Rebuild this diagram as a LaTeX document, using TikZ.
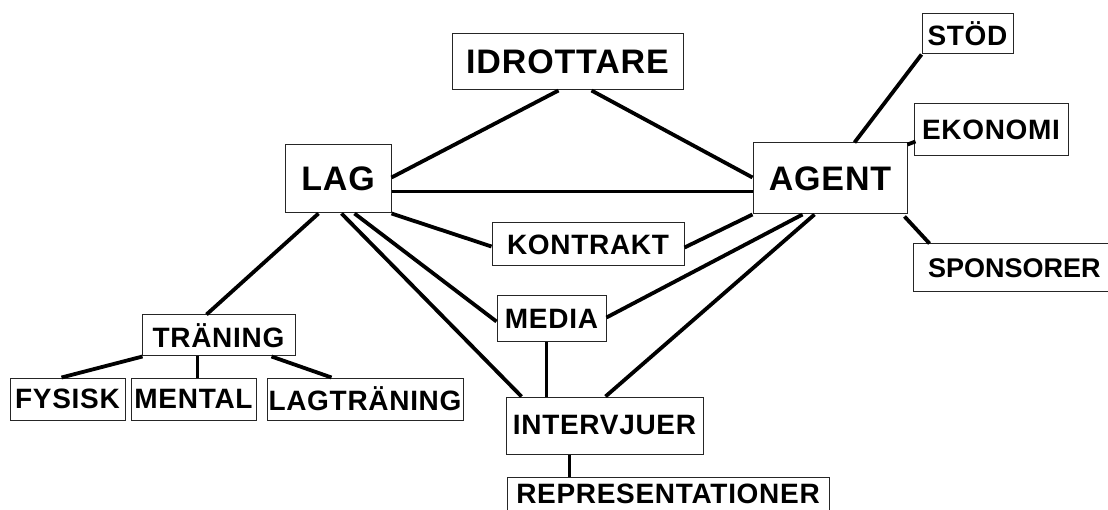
\documentclass[tikz,border=0pt]{standalone}
\usepackage{fontspec}
\setmainfont{Liberation Sans}[LetterSpace=2.5]
\newfontfamily\tightfont{Liberation Sans}
\usetikzlibrary{calc}
\begin{document}
\begin{tikzpicture}[x=1pt,y=-1pt,
  box/.style={draw=black!85,line width=1pt,fill=white,inner sep=0pt,anchor=center},
  big/.style={box,font=\fontsize{34}{36}\selectfont\bfseries},
  small/.style={box,font=\fontsize{28}{30}\selectfont\bfseries},
  conn/.style={line width=3.8pt,black}]
\useasboundingbox (0,0) rectangle (1108,510);
\fill[white] (0,0) rectangle (1108,510);
% boxes
\node[big,minimum width=231pt,minimum height=56pt] (idr) at (567.5,62) {IDROTTARE};
\node[big,minimum width=106pt,minimum height=68pt] (lag) at (338,179) {LAG};
\node[big,minimum width=154pt,minimum height=71pt] (agent) at (830,178.5) {AGENT};
\node[small,minimum width=91pt,minimum height=40pt] (stod) at (967.5,34) {STÖD};
\node[small,minimum width=154pt,minimum height=52pt] (eko) at (991,130) {EKONOMI};
\node[small,font=\fontsize{27}{29}\tightfont\bfseries,minimum width=202pt,minimum height=48pt,text width=172pt,align=left] (spo) at (1014,268) {SPONSORER};
\node[small,minimum width=192pt,minimum height=43pt] (kon) at (588,244.5) {KONTRAKT};
\node[small,minimum width=109pt,minimum height=46pt] (media) at (551.5,319) {MEDIA};
\node[small,minimum width=153pt,minimum height=41pt] (tr) at (218.5,335.5) {TRÄNING};
\node[small,minimum width=115pt,minimum height=42pt] (fys) at (67.5,399) {FYSISK};
\node[small,minimum width=125pt,minimum height=42pt] (men) at (193.5,399) {MENTAL};
\node[small,minimum width=196pt,minimum height=42pt] (lagt) at (365,399) {LAGTRÄNING};
\node[small,minimum width=197pt,minimum height=57pt] (int) at (604.5,425.5) {INTERVJUER};
\node[small,minimum width=322pt,minimum height=33pt] (rep) at (668,493.5) {REPRESENTATIONER};
% connectors
\draw[conn] ($(idr.south west)+(107,0)$) -- ($(lag.north east)+(0,33)$);
\draw[conn] ($(idr.south west)+(140,0)$) -- ($(agent.north west)+(0,35)$);
\draw[conn] ($(lag.north east)+(0,47)$) -- ($(agent.north west)+(0,49)$);
\draw[conn] (lag.south east) -- ($(kon.north west)+(0,24)$);
\draw[conn] ($(kon.north east)+(0,25)$) -- (agent.south west);
\draw[conn] ($(lag.south west)+(70,0)$) -- ($(media.north west)+(0,26)$);
\draw[conn] ($(lag.south west)+(57,0)$) -- ($(int.north west)+(16,0)$);
\draw[conn] ($(media.north east)+(0,22)$) -- ($(agent.south west)+(50,0)$);
\draw[conn] ($(agent.south west)+(62,0)$) -- ($(int.north west)+(100,0)$);
\draw[conn] ($(media.south west)+(50,0)$) -- ($(int.north west)+(41,0)$);
\draw[conn] ($(lag.south west)+(34,0)$) -- ($(tr.north west)+(65,0)$);
\draw[conn] ($(tr.south west)+(1,0)$) -- ($(fys.north west)+(52,0)$);
\draw[conn] ($(tr.south west)+(56,0)$) -- ($(men.north west)+(67,0)$);
\draw[conn] ($(tr.south west)+(130,0)$) -- ($(lagt.north west)+(65,0)$);
\draw[conn] ($(int.south west)+(64,0)$) -- ($(rep.north west)+(63,0)$);
\draw[conn] ($(agent.north west)+(102,0)$) -- (stod.south west);
\draw[conn] ($(agent.north east)+(0,2)$) -- ($(eko.north west)+(2,38)$);
\draw[conn] ($(agent.south east)+(-3,2)$) -- ($(spo.north west)+(17,0)$);
\end{tikzpicture}
\end{document}
